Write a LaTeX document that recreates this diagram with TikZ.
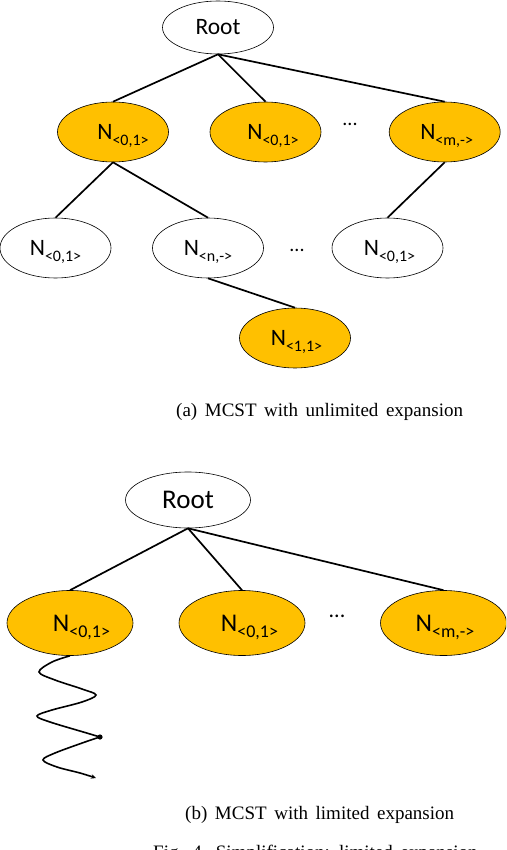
\documentclass[tikz,border=0pt]{standalone}
\usepackage{fontspec}
\setmainfont{Carlito}
\newfontfamily\capfont[WordSpace=1.6]{Liberation Serif}
\usetikzlibrary{shapes.geometric,arrows.meta}
\definecolor{gold}{HTML}{FFC000}
\newcommand\NT[2][0pt]{\hspace*{#1}{\fontsize{23.5}{23.5}\selectfont N}{\fontsize{16}{16}\selectfont\smash{\raisebox{-6pt}{#2}}}}
\newcommand\NB[2][0pt]{\hspace*{#1}{\fontsize{25.5}{25.5}\selectfont N}{\fontsize{18}{18}\selectfont\smash{\raisebox{-6.5pt}{#2}}}}
\begin{document}
\begin{tikzpicture}[x=1pt,y=-1pt,
  tnode/.style={ellipse, draw, line width=0.6pt, inner sep=0pt, minimum width=111pt, minimum height=60pt},
  bnode/.style={ellipse, draw, line width=0.6pt, inner sep=0pt, minimum width=126pt, minimum height=65pt},
  goldfill/.style={fill=gold},
  edge/.style={line width=1.7pt},
  wave/.style={line width=1.6pt},
  dots/.style={inner sep=0pt, anchor=base},
  capnode/.style={font=\capfont\fontsize{19}{19}\selectfont, inner sep=0pt, anchor=base west}]
\useasboundingbox (0,0) rectangle (506,850);
\clip (0,0) rectangle (506,850);
% ---------- (a) ----------
\node[tnode, minimum height=53pt, font=\fontsize{23.5}{23.5}\selectfont] (root) at (218,27.5) {Root};
\node[tnode, goldfill] (n1) at (113,132) {\NT[20pt]{<0,1>}};
\node[tnode, goldfill] (n2) at (265.5,132) {\NT[15pt]{<0,1>}};
\node[tnode, goldfill] (n3) at (444.7,132) {\NT[4pt]{<m,->}};
\node[dots, font=\fontsize{20}{20}\selectfont] (d1) at (350,126) {...};
\node[tnode] (l1) at (55.5,248) {\NT{<0,1>}};
\node[tnode] (l2) at (208,248) {\NT{<n,->}};
\node[tnode] (l3) at (387.5,248) {\NT[4pt]{<0,1>}};
\node[dots, font=\fontsize{20}{20}\selectfont] (d2) at (297,251) {...};
\node[tnode, goldfill] (l4) at (295,338) {\NT[3pt]{<1,1>}};
\draw[edge] (root.south) -- (n1.north);
\draw[edge] (root.south) -- (n2.north);
\draw[edge] (root.south) -- (n3.north);
\draw[edge] (n1.south) -- (l1.north);
\draw[edge] (n1.south) -- (l2.north);
\draw[edge] (n3.south) -- (l3.north);
\draw[edge] (l2.south) -- (l4.north);
\node[capnode] (capa) at (176,416.5) {(a) MCST with unlimited expansion};
% ---------- (b) ----------
\node[bnode, minimum width=125pt, minimum height=56pt, font=\fontsize{27}{27}\selectfont] (root2) at (188,500) {Root};
\node[bnode, goldfill] (b1) at (70,623) {\NB[23pt]{<0,1>}};
\node[bnode, goldfill] (b2) at (242,623) {\NB[15pt]{<0,1>}};
\node[bnode, goldfill] (b3) at (443.5,623) {\NB[3pt]{<m,->}};
\node[dots, font=\fontsize{22}{22}\selectfont] (d3) at (337,617) {...};
\draw[edge] (root2.south) -- (b1.north);
\draw[edge] (root2.south) -- (b2.north);
\draw[edge] (root2.south) -- (b3.north);
\coordinate (wd) at (100,737);
\coordinate (we) at (96,778);
\draw[wave] plot[smooth, tension=0.55] coordinates {(b1.south) (52,662) (39,672) (55,680) (82,689) (96,695) (82,702) (52,710) (37,716) (50,722) (85,732.5) (wd)};
\draw[wave, -{Stealth[length=5pt,width=4.5pt]}] plot[smooth, tension=0.55] coordinates {(wd) (85,742) (55,753) (43,760) (57,767) (80,773) (we)};
\fill (wd) circle (2.6);
\node[capnode] (capb) at (185,819) {(b) MCST with limited expansion};
\node[capnode] (fig) at (153,858) {Fig. 4. Simplification: limited expansion};
\end{tikzpicture}
\end{document}
